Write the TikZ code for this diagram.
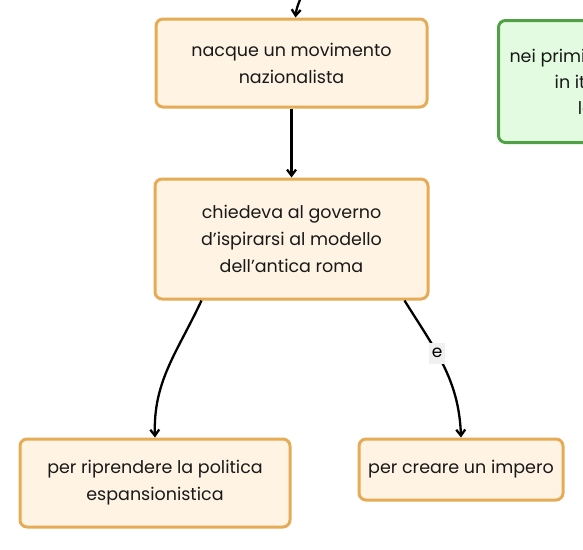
\documentclass[tikz,border=0pt]{standalone}
\usepackage{fontspec}
\setmainfont{Poppins}
\usetikzlibrary{arrows.meta,positioning}

\begin{document}
\begin{tikzpicture}[
  x=1pt, y=-1pt,
  concept/.style={draw=conceptline, fill=conceptfill, line width=3pt, rounded corners=7pt, align=center, font=\fontsize{17.5}{27}\selectfont, text=black!90},
  topic/.style={draw=topicline, fill=topicfill, line width=3pt, rounded corners=7pt, align=center, font=\fontsize{17.5}{26}\selectfont, text=black!90},
  link/.style={-{Straight Barb[length=6pt,width=9pt]}, line width=2.3pt, black},
  linklabel/.style={fill=gray!12, inner xsep=2.5pt, minimum height=21pt, font=\fontsize{17}{18}\selectfont}
]
\definecolor{conceptline}{HTML}{E6AC55}
\definecolor{conceptfill}{HTML}{FFF3E4}
\definecolor{topicline}{HTML}{50A045}
\definecolor{topicfill}{HTML}{E3FCE1}

\useasboundingbox (0,0) rectangle (583,549);
\clip (0,0) rectangle (583,549);

% concept map: the nationalist movement
\node[concept, minimum width=271pt, minimum height=88pt] (movement) at (291.5,63) {nacque un movimento\\nazionalista};
\node[concept, minimum width=273pt, minimum height=120pt] (request) at (291.5,239) {chiedeva al governo\\d'ispirarsi al modello\\dell'antica roma};
\node[concept, minimum width=270pt, minimum height=88pt] (policy) at (155,483) {per riprendere la politica\\espansionistica};
\node[concept, minimum width=204pt, minimum height=61pt] (empire) at (461,469.5) {per creare un impero};
\node[topic, minimum height=122pt, inner xsep=11pt, anchor=north west] (period) at (497,19) {nei primi anni del '900\\in italia, il re\\la crisi};

\coordinate (above) at (304,-12);

\draw[link] (above) to[out=-105,in=85] ([xshift=4pt]movement.north);
\draw[link] (movement) -- (request);
\draw[link] ([xshift=-90pt]request.south) to[out=-115,in=92] (policy.north);
\draw[link] ([xshift=113pt]request.south) to[out=-58,in=92] node[linklabel, pos=0.4] {e} (empire.north);
\end{tikzpicture}
\end{document}
